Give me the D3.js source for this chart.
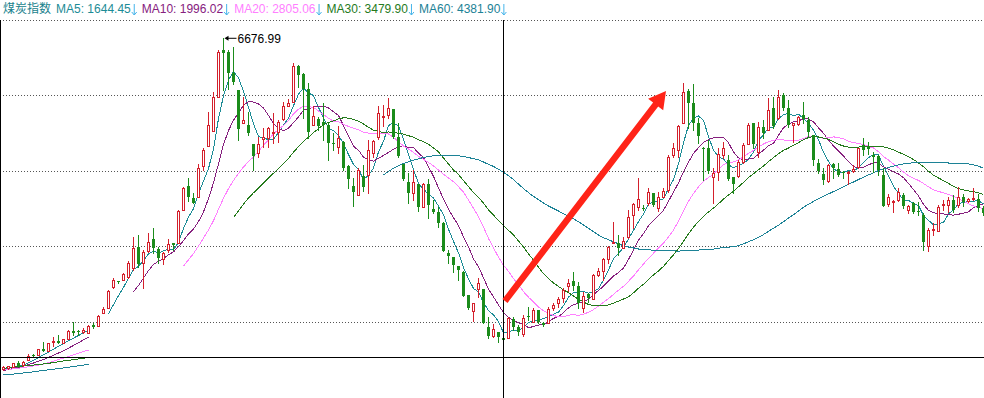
<!DOCTYPE html>
<html>
<head>
<meta charset="utf-8">
<script src="https://cdn.jsdelivr.net/npm/d3@7"></script>
<style>
  body { margin: 0; background: #fff; }
  svg { display: block; }
</style>
</head>
<body>
<script>
// daily candles of the coal index
const opens = [
  1055,1067,1093,1162,1118,1203,1293,1293,1390,1366,1514,1537,1502,1570,1701,1701,1689,1662,1803,1786,
  2012,2097,2444,2551,2563,2614,2767,3134,2852,3066,3265,3090,2920,3078,3192,3192,3758,4171,3962,3984,
  4511,4851,5106,5674,6478,6444,6082,5798,5232,5198,4875,4722,4965,4977,5067,5089,5300,5531,5599,6206,
  6065,5810,5198,5300,5259,5203,4892,4834,4919,4511,4166,4013,4336,4353,4722,4994,5339,5373,5475,5004,
  4540,4239,4042,4200,3814,4200,3770,3729,3542,3032,2954,2806,2709,2308,2046,2410,2415,1774,1621,1679,
  1577,1577,1900,1774,1645,1956,1859,2058,1842,1842,2087,2172,2267,2466,2551,2466,2097,2325,2240,2653,
  2726,2920,3192,3192,3117,3294,3673,3814,3797,3872,4042,3797,3984,4098,4693,4778,5242,5786,5572,5232,
  4807,4807,4319,4409,4693,4608,4313,4336,4579,4880,5232,4749,5174,5118,5487,5317,5713,5487,5203,5220,
  5373,5288,5033,4552,4365,4255,4535,4450,4409,4382,4421,4494,4863,4834,4693,4676,4353,3860,3899,3928,
  4013,3758,3872,3741,3673,3146,3418,3406,3843,3843,3928,3843,3984,3911,3945,3940,3787
];
const highs = [
  1106,1114,1157,1191,1191,1305,1310,1395,1514,1497,1604,1633,1565,1710,1849,1718,1757,1795,1832,1965,
  2114,2390,2607,2556,2692,2891,3304,3333,3078,3362,3457,3134,3049,3260,3197,3750,4154,4297,4042,4535,
  4807,5424,5769,6478,6676.99,6478,6524,5800,5684,5429,4880,5004,5152,5174,5402,5288,5599,5640,6262,6223,
  6082,5912,5526,5344,5582,5232,5062,5186,4923,4515,4297,4467,4523,4948,4940,5526,5543,5657,5480,5232,
  4545,4392,4438,4205,4212,4280,3928,3814,3546,3078,2959,2810,2713,2313,2177,2597,2420,1934,1815,1684,
  1662,1944,1944,1803,1973,2104,2087,2062,1859,2114,2182,2284,2427,2580,2709,2539,2369,2352,2665,2767,
  2937,3146,3549,3333,3304,3758,3877,4297,3843,4127,4047,4059,4127,4693,4892,5203,5912,5810,5900,5317,
  4834,4948,4472,4807,4919,4693,4324,4608,4892,5242,5242,5259,5288,5657,5684,5798,5742,5628,5237,5361,
  5599,5344,5038,4625,4467,4540,4552,4552,4413,4421,4523,4817,4977,4909,4749,4693,4467,4030,3928,4127,
  4042,3843,3899,3899,3702,3447,3532,3843,3928,3984,4013,4154,4025,3957,4127,4025,3826
];
const lows = [
  1038,1055,1089,1089,1106,1200,1264,1285,1361,1361,1451,1492,1497,1565,1633,1633,1672,1659,1757,1778,
  2002,2092,2440,2512,2560,2610,2738,2794,2427,3049,3022,2852,2835,3049,3078,3189,3750,3911,3877,3979,
  4438,4846,5101,5671,5798,5815,5900,4948,5229,5033,4438,4664,4834,4834,4892,4919,5288,5526,5594,5854,
  5317,4977,5195,5118,4948,4608,4778,4722,4438,4127,3831,4005,4086,4042,4664,4965,5186,5317,4982,4654,
  4268,3882,3928,3746,3809,3617,3702,3474,3061,2852,2709,2568,2291,2075,1876,2284,1837,1577,1604,1519,
  1492,1574,1718,1633,1621,1888,1854,1832,1786,1837,2058,2104,2199,2381,2398,2087,2029,2199,2237,2636,
  2568,2852,3189,2993,3107,3277,3447,3758,3758,3843,3826,3741,3974,4069,4664,4664,5232,5147,5118,4892,
  4268,4382,3877,4268,4637,4268,4042,4319,4552,4872,4807,4664,4977,5110,5147,5305,5458,5174,4919,5203,
  5232,4994,4523,4382,4200,4239,4307,4341,4307,4200,4399,4477,4693,4705,4409,4353,3826,3831,3719,3911,
  3787,3702,3712,3673,3078,3066,3333,3401,3758,3729,3729,3814,3831,3899,3928,3741,3673
];
const closes = [
  1089,1106,1152,1093,1174,1276,1276,1390,1366,1492,1526,1502,1560,1701,1672,1684,1718,1786,1774,1956,
  2070,2381,2563,2534,2665,2862,3107,2835,3039,3219,3107,2937,3022,3175,3163,3741,4127,3984,3882,4467,
  4778,5198,5674,6439,6422,6092,5929,5140,5288,5062,4681,4875,5004,5147,5084,5259,5526,5582,6206,6053,
  5810,5089,5356,5186,5203,4902,4880,4977,4467,4280,4059,4438,4154,4778,4937,5412,5356,5487,5004,4676,
  4280,4042,4229,3814,4200,3843,3719,3542,3066,2976,2823,2738,2296,2097,2172,2512,1842,1616,1730,1604,
  1548,1917,1774,1679,1917,1934,2058,1859,1803,2070,2143,2245,2398,2522,2466,2172,2296,2257,2653,2726,
  2920,3134,3209,3117,3231,3644,3860,3945,3770,4059,3843,3984,4081,4654,4807,5191,5769,5572,5242,5016,
  4790,4421,4387,4710,4812,4285,4195,4579,4863,5203,4880,5174,5062,5458,5186,5684,5487,5203,5232,5334,
  5305,5089,4608,4421,4268,4523,4467,4353,4382,4409,4455,4807,4778,4795,4654,4438,3831,3974,3911,4059,
  3831,3831,3729,3719,3219,3418,3435,3814,3860,3928,3758,3984,3899,3940,3967,3787,3702
];

// moving averages restart here; the short lines before it come from older data
const restartIndex = 17;
const maPeriods = [5, 10, 20, 30, 60];
const maColors = ["#1c8c96", "#86207e", "#ff80ff", "#257a1c", "#1c8296"];
const oldMaIndex = [0, 4, 8, 12, 17];
const oldMa5 = [1055, 1123, 1296, 1489, 1713];
const oldMa10 = [1030, 1106, 1217, 1366, 1599];
const oldMa20 = [1038, 1080, 1140, 1242, 1378];
const oldMa30 = [1067, 1106, 1140, 1191, 1250];
const oldMa60 = [953, 987, 1030, 1072, 1135];

// header legend
const indexName = "煤炭指数";
const maLabels = ["MA5: 1644.45", "MA10: 1996.02", "MA20: 2805.06", "MA30: 3479.90", "MA60: 4381.90"];

const gridValues = [1854, 3137, 4421, 5704, 6988];
const crossIndex = 100;
const crossValue = 1259;
const arrowFrom = { i: 100.3, v: 2211 };
const arrowTo = { i: 132.5, v: 5781 };

const width = 984;
const height = 398;
const plotTop = 20;
const upColor = "#d4202c";
const downColor = "#1b8c1b";

const svg = d3.select("body").append("svg")
  .attr("width", width)
  .attr("height", height)
  .style("font-family", "'Liberation Sans', Arial, sans-serif");

const x = d3.scaleLinear().domain([0, closes.length - 1]).range([3.5, 983.5]);
const y = d3.scaleLinear().domain([562, 7328]).range([height, 0]);
const px = (v) => Math.floor(y(v)) + 0.5;

// dotted grid
svg.append("g")
  .selectAll("line")
  .data(gridValues)
  .join("line")
  .attr("x1", 0)
  .attr("x2", width)
  .attr("y1", (d) => px(d))
  .attr("y2", (d) => px(d))
  .attr("stroke", "#555")
  .attr("stroke-dasharray", "1,2")
  .attr("shape-rendering", "crispEdges");

// left border
svg.append("line")
  .attr("x1", 0.5).attr("x2", 0.5)
  .attr("y1", plotTop).attr("y2", height)
  .attr("stroke", "#000")
  .attr("shape-rendering", "crispEdges");

// moving averages
const line = d3.line().x((d) => x(d.i)).y((d) => y(d.v));
const oldSeries = [oldMa5, oldMa10, oldMa20, oldMa30, oldMa60];
const maGroup = svg.append("g").attr("fill", "none").attr("shape-rendering", "crispEdges");

oldSeries.forEach((vals, k) => {
  const pts = vals.map((v, j) => ({ i: oldMaIndex[j], v }));
  maGroup.append("path")
    .attr("d", line.curve(d3.curveMonotoneX)(pts))
    .attr("stroke", maColors[k]);
});

maPeriods.forEach((p, k) => {
  const pts = [];
  for (let i = restartIndex + p - 1; i < closes.length; i++) {
    pts.push({ i, v: d3.mean(closes.slice(i - p + 1, i + 1)) });
  }
  maGroup.append("path")
    .attr("d", line.curve(d3.curveLinear)(pts))
    .attr("stroke", maColors[k]);
});

// candles
const candles = svg.append("g")
  .selectAll("g")
  .data(closes.map((c, i) => ({ i, o: opens[i], h: highs[i], l: lows[i], c })))
  .join("g")
  .attr("shape-rendering", "crispEdges");

candles.append("line")
  .attr("x1", (d) => x(d.i))
  .attr("x2", (d) => x(d.i))
  .attr("y1", (d) => Math.round(y(d.h)))
  .attr("y2", (d) => Math.round(y(d.l)) + 1)
  .attr("stroke", (d) => (d.c >= d.o ? upColor : downColor));

candles.append("rect")
  .attr("x", (d) => (d.c >= d.o ? x(d.i) - 1 : x(d.i) - 1.5))
  .attr("width", (d) => (d.c >= d.o ? 2 : 3))
  .attr("y", (d) => Math.round(y(Math.max(d.o, d.c))) + (d.c >= d.o ? 0.5 : 0))
  .attr("height", (d) => Math.max(1, Math.round(y(Math.min(d.o, d.c))) - Math.round(y(Math.max(d.o, d.c)))))
  .attr("fill", (d) => (d.c >= d.o ? "#fff" : downColor))
  .attr("stroke", (d) => (d.c >= d.o ? upColor : "none"));

// crosshair
svg.append("line")
  .attr("x1", 0).attr("x2", width)
  .attr("y1", px(crossValue)).attr("y2", px(crossValue))
  .attr("stroke", "#000")
  .attr("shape-rendering", "crispEdges");
svg.append("line")
  .attr("x1", x(crossIndex)).attr("x2", x(crossIndex))
  .attr("y1", plotTop).attr("y2", height)
  .attr("stroke", "#000")
  .attr("shape-rendering", "crispEdges");

// highest price marker
const peakIdx = d3.maxIndex(highs);
const peakX = x(peakIdx);
const peakY = y(highs[peakIdx]);
svg.append("path")
  .attr("d", `M${peakX + 1},${peakY} l4,-2.5 v5 z`)
  .attr("fill", "#000");
svg.append("line")
  .attr("x1", peakX + 4).attr("x2", peakX + 13)
  .attr("y1", peakY).attr("y2", peakY)
  .attr("stroke", "#000");
svg.append("text")
  .attr("x", peakX + 14)
  .attr("y", peakY + 4.5)
  .attr("font-size", 12)
  .attr("fill", "#000")
  .text(highs[peakIdx].toFixed(2));

// red annotation arrow
{
  const x0 = x(arrowFrom.i), y0 = y(arrowFrom.v);
  const x1 = x(arrowTo.i), y1 = y(arrowTo.v);
  const len = Math.hypot(x1 - x0, y1 - y0);
  const ux = (x1 - x0) / len, uy = (y1 - y0) / len;
  const nx = -uy, ny = ux;
  const shaft = 3.2, head = 9.5, headLen = 17;
  const bx = x1 - ux * headLen, by = y1 - uy * headLen;
  const p = [
    [x0 + nx * shaft, y0 + ny * shaft],
    [bx + nx * shaft, by + ny * shaft],
    [bx + nx * head, by + ny * head],
    [x1, y1],
    [bx - nx * head, by - ny * head],
    [bx - nx * shaft, by - ny * shaft],
    [x0 - nx * shaft, y0 - ny * shaft]
  ];
  svg.append("path")
    .attr("d", "M" + p.map((q) => q.join(",")).join("L") + "Z")
    .attr("fill", "#ff2418");
}

// header legend
const header = svg.append("g").attr("font-size", 12);
const nameText = header.append("text")
  .attr("x", 3).attr("y", 13)
  .attr("fill", "#177f8c")
  .style("font-family", "'Noto Sans CJK SC', sans-serif")
  .text(indexName);
let cursor = 3 + nameText.node().getComputedTextLength() + 5;
maLabels.forEach((label, k) => {
  const t = header.append("text")
    .attr("x", cursor).attr("y", 13)
    .attr("fill", maColors[k])
    .text(label);
  cursor += t.node().getComputedTextLength() + 1;
  header.append("path")
    .attr("d", `M${cursor + 2.5},4 V15 M${cursor},12 L${cursor + 2.5},15 L${cursor + 5},12`)
    .attr("stroke", "#45b4ea")
    .attr("fill", "none");
  cursor += 10;
});
</script>
</body>
</html>
